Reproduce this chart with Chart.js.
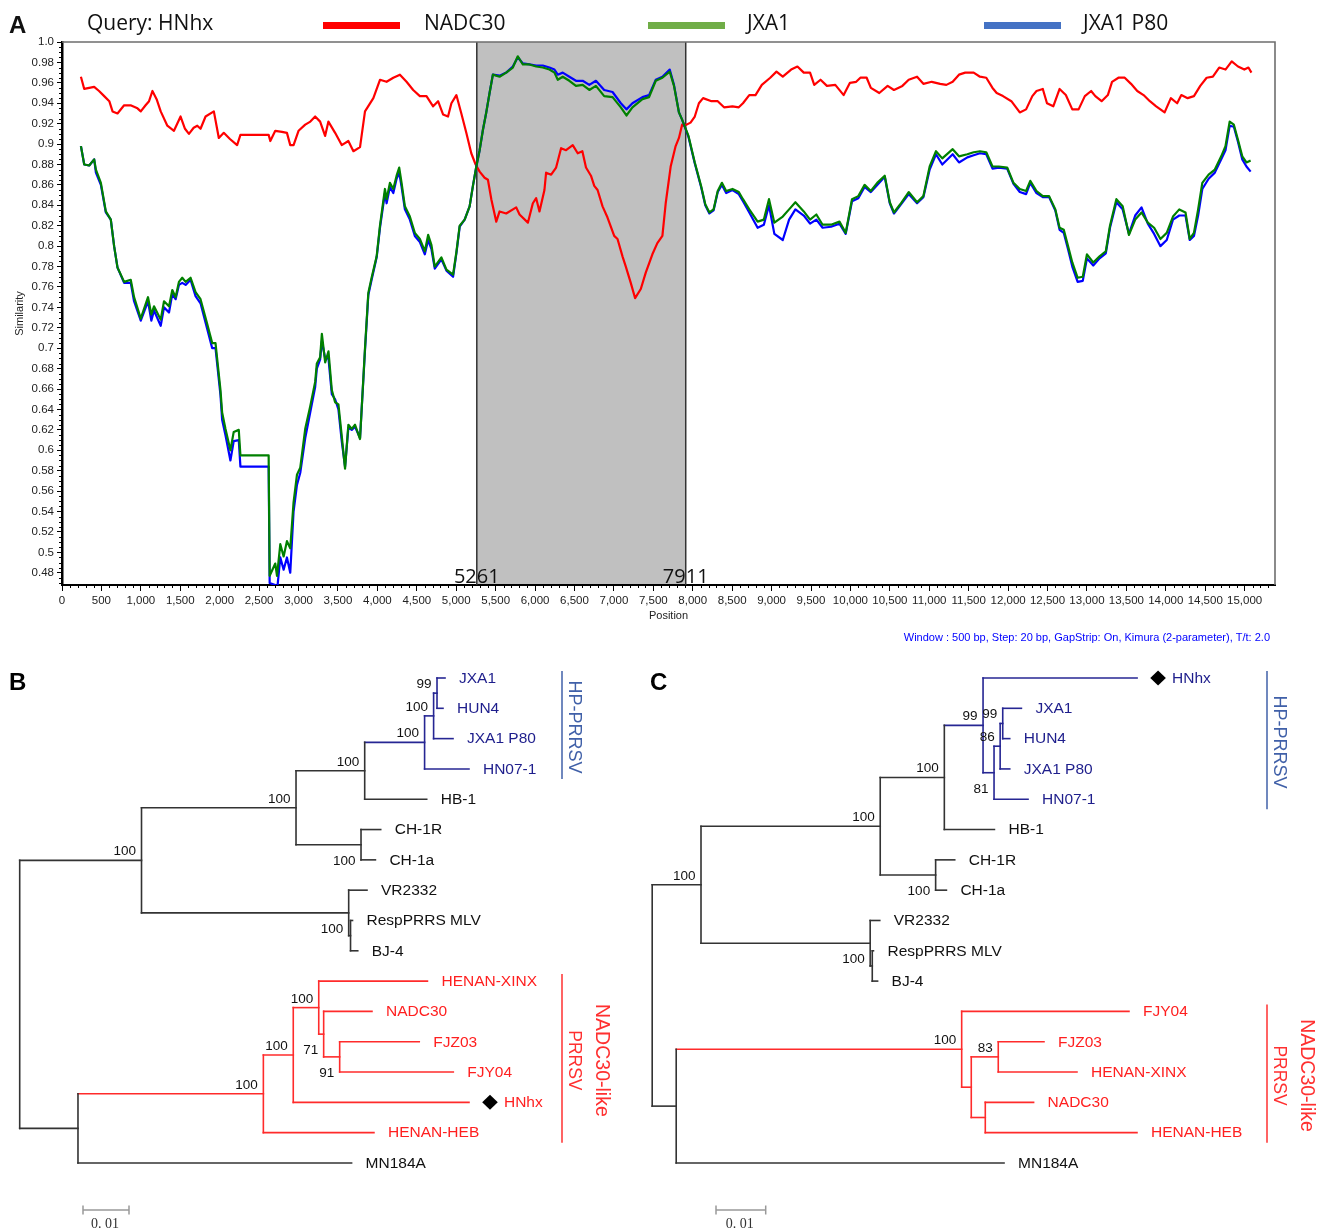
<!DOCTYPE html>
<html>
<head>
<meta charset="utf-8">
<title>HNhx similarity plot and trees</title>
<script src="https://cdn.jsdelivr.net/npm/chart.js@4.4.1/dist/chart.umd.min.js"></script>
<style>
  html, body { margin: 0; padding: 0; background: #fff; }
  #wrap { position: relative; width: 1320px; height: 1229px; overflow: hidden; }
  canvas { position: absolute; }
</style>
</head>
<body>
<div id="wrap">
  <canvas id="chartA" width="1320" height="645" style="left:0;top:0"></canvas>
  <canvas id="chartB" width="640" height="579" style="left:0;top:650px"></canvas>
  <canvas id="chartC" width="680" height="579" style="left:640px;top:650px"></canvas>
</div>
<script>
// ---- panel A : similarity plot, query HNhx ----
var queryName = 'HNhx';
var seriesNames = ['NADC30', 'JXA1', 'JXA1 P80'];
var breakpoints = [5261, 7911];
var positionTicks = [0,500,1000,1500,2000,2500,3000,3500,4000,4500,5000,5500,6000,6500,7000,7500,
  8000,8500,9000,9500,10000,10500,11000,11500,12000,12500,13000,13500,14000,14500,15000];

var nadcPos = [
  240,282,345,408,470,535,600,641,704,788,
  870,957,999,1060,1104,1147,1200,1252,1336,1420,
  1504,1560,1610,1670,1716,1757,1821,1926,1989,2052,
  2130,2221,2263,2621,2642,2705,2790,2853,2895,2937,
  3000,3085,3150,3211,3274,3337,3379,3464,3548,3632,
  3696,3780,3843,3949,4033,4117,4202,4286,4370,4454,
  4539,4623,4707,4770,4833,4896,4939,5002,5065,5128,
  5191,5246,5297,5360,5402,5445,5508,5550,5634,5761,
  5803,5909,5972,6014,6056,6119,6140,6204,6267,6330,
  6393,6478,6541,6600,6646,6709,6751,6793,6856,6919,
  7004,7046,7109,7151,7214,7269,7341,7404,7488,7551,
  7615,7657,7720,7783,7825,7865,7893,7972,8026,8078,
  8131,8238,8317,8397,8504,8584,8637,8717,8796,8876,
  8983,9062,9142,9248,9328,9408,9488,9541,9621,9702,
  9808,9914,9994,10073,10126,10206,10259,10366,10472,10552,
  10659,10739,10845,10925,11031,11138,11217,11297,11377,11456,
  11563,11643,11723,11802,11855,11935,12041,12148,12228,12307,
  12360,12440,12493,12573,12653,12732,12814,12894,12973,13053,
  13106,13186,13265,13318,13399,13479,13559,13638,13718,13798,
  13878,13985,14064,14144,14197,14277,14357,14437,14518,14597,
  14677,14757,14836,14916,14996,15048,15086
];
var nadcSim = [
  .966,.954,.955,.956,.952,.947,.942,.932,.930,.938,
  .938,.935,.932,.938,.942,.952,.944,.932,.918,.913,
  .927,.915,.910,.916,.918,.915,.927,.932,.906,.911,
  .905,.899,.909,.909,.903,.913,.912,.911,.899,.899,
  .913,.919,.922,.927,.922,.908,.922,.911,.899,.903,
  .893,.897,.932,.945,.963,.961,.965,.968,.961,.953,
  .947,.947,.937,.942,.929,.927,.940,.948,.930,.911,
  .891,.880,.873,.867,.865,.846,.824,.834,.832,.838,
  .831,.823,.842,.847,.834,.855,.872,.870,.877,.896,
  .894,.899,.891,.893,.877,.869,.859,.855,.839,.828,
  .810,.807,.790,.780,.764,.749,.758,.774,.792,.803,
  .810,.842,.878,.898,.906,.919,.918,.921,.927,.940,
  .945,.942,.942,.936,.937,.936,.940,.948,.948,.958,
  .965,.971,.966,.973,.976,.970,.970,.958,.963,.957,
  .958,.948,.960,.961,.965,.965,.955,.950,.957,.953,
  .957,.963,.966,.959,.961,.959,.958,.961,.968,.970,
  .970,.966,.965,.955,.950,.947,.942,.931,.934,.947,
  .952,.954,.940,.937,.954,.948,.934,.934,.947,.952,
  .947,.942,.948,.961,.965,.965,.959,.952,.948,.942,
  .937,.931,.945,.940,.948,.945,.947,.957,.965,.966,
  .975,.973,.981,.976,.973,.975,.970
];

// JXA1 and JXA1 P80 share the same window positions
var jxaPos = [
  240,282,345,408,430,493,556,619,661,704,
  788,872,914,999,1091,1133,1167,1252,1294,1357,
  1399,1441,1483,1525,1568,1631,1694,1757,1841,1905,
  1947,2010,2031,2073,2136,2178,2242,2263,2621,2634,
  2705,2727,2769,2811,2853,2895,2937,2980,3022,3085,
  3148,3211,3232,3274,3296,3338,3380,3422,3464,3506,
  3548,3590,3632,3675,3717,3780,3843,3885,3927,3991,
  4033,4096,4117,4159,4202,4244,4277,4307,4349,4412,
  4475,4539,4602,4644,4686,4728,4812,4876,4960,5002,
  5044,5107,5170,5212,5255,5297,5339,5381,5423,5465,
  5550,5634,5718,5781,5845,5929,6014,6098,6182,6246,
  6288,6351,6435,6519,6604,6688,6772,6877,6983,7088,
  7159,7235,7362,7446,7531,7615,7708,7762,7825,7865,
  7946,8026,8106,8159,8211,8264,8317,8370,8424,8504,
  8584,8637,8717,8823,8902,8967,9035,9142,9222,9302,
  9408,9488,9568,9647,9754,9861,9940,10020,10100,10180,
  10259,10340,10435,10499,10552,10632,10739,10845,10925,11005,
  11085,11165,11297,11377,11483,11563,11643,11723,11802,11882,
  11988,12068,12148,12228,12281,12360,12440,12520,12599,12653,
  12706,12760,12814,12882,12947,13000,13080,13160,13239,13292,
  13373,13453,13533,13612,13692,13772,13852,13932,14012,14091,
  14171,14250,14304,14357,14410,14463,14543,14622,14703,14757,
  14810,14863,14916,14970,15023,15076
];
var jxaSim = [
  .898,.880,.879,.885,.875,.862,.834,.826,.800,.779,
  .765,.767,.750,.729,.750,.733,.741,.728,.746,.741,
  .757,.750,.765,.769,.765,.769,.755,.748,.724,.705,
  .705,.659,.637,.621,.600,.618,.620,.595,.595,.477,
  .489,.477,.508,.496,.511,.504,.549,.576,.583,.621,
  .643,.667,.685,.691,.714,.686,.697,.659,.647,.645,
  .614,.582,.625,.621,.625,.611,.700,.754,.769,.790,
  .820,.856,.846,.862,.856,.869,.877,.862,.839,.829,
  .813,.807,.795,.811,.801,.780,.789,.777,.772,.794,
  .820,.826,.839,.859,.878,.894,.914,.931,.950,.968,
  .966,.970,.975,.986,.978,.978,.976,.975,.973,.970,
  .963,.966,.962,.957,.958,.953,.957,.947,.946,.936,
  .928,.936,.944,.946,.962,.965,.971,.957,.931,.924,
  .908,.882,.859,.841,.833,.836,.854,.862,.854,.856,
  .853,.846,.836,.824,.826,.846,.823,.829,.836,.843,
  .834,.826,.831,.821,.821,.824,.813,.846,.849,.860,
  .854,.862,.869,.843,.833,.841,.853,.843,.849,.878,
  .893,.886,.895,.888,.890,.892,.893,.892,.878,.878,
  .877,.862,.856,.854,.864,.854,.849,.849,.836,.818,
  .816,.800,.784,.769,.770,.792,.784,.790,.795,.820,
  .846,.839,.811,.826,.833,.823,.818,.807,.813,.829,
  .836,.833,.807,.813,.836,.862,.870,.875,.888,.898,
  .922,.919,.904,.888,.882,.884
];
var p80Sim = [
  .898,.880,.879,.885,.872,.860,.833,.826,.800,.779,
  .764,.764,.746,.727,.746,.727,.737,.722,.740,.735,
  .753,.748,.762,.764,.762,.767,.751,.744,.719,.700,
  .700,.654,.630,.615,.590,.609,.610,.584,.584,.470,
  .468,.462,.495,.483,.495,.480,.540,.566,.578,.612,
  .637,.662,.680,.689,.707,.690,.690,.655,.650,.640,
  .609,.584,.622,.620,.623,.612,.698,.752,.767,.789,
  .818,.852,.842,.858,.852,.866,.872,.858,.836,.826,
  .810,.804,.792,.806,.797,.778,.787,.776,.770,.793,
  .819,.826,.839,.859,.878,.894,.914,.931,.950,.968,
  .967,.970,.976,.985,.979,.978,.977,.977,.975,.973,
  .968,.970,.966,.962,.962,.958,.962,.953,.951,.940,
  .934,.940,.946,.948,.963,.966,.973,.958,.931,.924,
  .907,.881,.858,.840,.832,.835,.853,.860,.852,.855,
  .851,.844,.833,.818,.821,.840,.812,.806,.826,.836,
  .830,.822,.826,.818,.819,.822,.812,.844,.847,.858,
  .853,.860,.868,.842,.832,.840,.851,.842,.848,.875,
  .890,.880,.890,.882,.887,.889,.891,.890,.876,.877,
  .876,.861,.853,.851,.862,.852,.848,.848,.835,.816,
  .813,.797,.780,.765,.766,.788,.781,.788,.793,.818,
  .843,.836,.812,.830,.838,.822,.812,.800,.806,.826,
  .830,.830,.806,.810,.830,.856,.866,.872,.885,.894,
  .918,.917,.902,.885,.878,.873
];

// ---- panels B and C : trees (parent, branch length, bootstrap) ----
var bNode   = ['root','big','hpch','hphb','hp','j3','jh','JXA1','HUN4','JXA1 P80','HN07-1','HB-1','ch1','CH-1R','CH-1a','vr','VR2332','rb','RespPRRS MLV','BJ-4','outer','n30','n5','n4','HENAN-XINX','n3','NADC30','fj','FJZ03','FJY04','HNhx','HENAN-HEB','MN184A'];
var bParent = [null,'root','big','hpch','hphb','hp','j3','jh','jh','j3','hp','hphb','hpch','ch1','ch1','big','vr','vr','rb','rb','root','outer','n30','n5','n4','n4','n3','n3','fj','fj','n5','n30','outer'];
var bLength = [0,0.02648,0.03359,0.01493,0.01302,0.00196,0.00074,0.00174,0.0013,0.00422,0.00965,0.01348,0.01413,0.00428,0.00313,0.04504,0.00398,0.0004,0.00043,0.00157,0.01267,0.0403,0.0065,0.00554,0.02363,0.00107,0.0105,0.00348,0.0173,0.0247,0.0382,0.02404,0.05948];
var bBoot   = [null,100,100,100,100,100,99,null,null,null,null,null,100,null,null,100,null,null,null,null,null,100,100,100,null,71,null,91,null,null,null,null,null];
var bBootBelow = ['ch1','vr','n3','fj'];

var cNode   = ['root','big','hhc','hphb','hp','HNhx','n4','n3','jh','JXA1','HUN4','JXA1 P80','HN07-1','HB-1','ch1','CH-1R','CH-1a','vr','VR2332','rb','RespPRRS MLV','BJ-4','outer','n30','FJY04','rest','fx','FJZ03','HENAN-XINX','nh','NADC30','HENAN-HEB','MN184A'];
var cParent = [null,'root','big','hhc','hphb','hp','hp','n4','n3','jh','jh','n3','n4','hphb','hhc','ch1','ch1','big','vr','vr','rb','rb','root','outer','n30','n30','rest','fx','fx','rest','nh','nh','outer'];
var cLength = [0,0.00982,0.03606,0.0129,0.00779,0.03099,0.00221,0.00123,0.00052,0.00376,0.00141,0.00193,0.00684,0.01008,0.01115,0.00384,0.00217,0.03404,0.00193,0.00042,0.00024,0.00107,0.00483,0.05744,0.03366,0.00193,0.00543,0.0092,0.01584,0.00282,0.00972,0.03052,0.06596];
var cBoot   = [null,100,100,100,99,null,81,86,99,null,null,null,null,null,100,null,null,100,null,null,null,null,null,100,null,null,83,null,null,null,null,null,null];
var cBootBelow = ['n4','ch1','vr'];

var hpGroup = 'HP-PRRSV';
var nadcGroup = ['NADC30-like', 'PRRSV'];
var scaleBarLength = 0.01;

// ---------------------------------------------------------------
var SANS = "'Liberation Sans', Arial, sans-serif";
Chart.defaults.font.family = SANS;

function toPoints(xs, ys) {
  return xs.map(function (x, i) { return { x: x, y: ys[i] }; });
}

var chartAPlugin = {
  id: 'similarityDecor',
  beforeDatasetsDraw: function (chart) {
    var ctx = chart.ctx, a = chart.chartArea, sx = chart.scales.x;
    var x1 = sx.getPixelForValue(breakpoints[0]), x2 = sx.getPixelForValue(breakpoints[1]);
    ctx.save();
    ctx.fillStyle = '#c0c0c0';
    ctx.fillRect(x1, a.top, x2 - x1, a.bottom - a.top - 1);
    ctx.strokeStyle = '#333';
    ctx.lineWidth = 1.5;
    ctx.beginPath();
    ctx.moveTo(x1, a.top); ctx.lineTo(x1, a.bottom);
    ctx.moveTo(x2, a.top); ctx.lineTo(x2, a.bottom);
    ctx.stroke();
    // top and right frame
    ctx.strokeStyle = '#6e6e6e';
    ctx.lineWidth = 1.6;
    ctx.beginPath();
    ctx.moveTo(a.left, a.top); ctx.lineTo(a.right, a.top); ctx.lineTo(a.right, a.bottom);
    ctx.stroke();
    ctx.restore();
  },
  afterDraw: function (chart) {
    var ctx = chart.ctx, a = chart.chartArea, sx = chart.scales.x, sy = chart.scales.y;
    ctx.save();
    // minor ticks
    ctx.strokeStyle = '#000';
    ctx.lineWidth = 1;
    ctx.beginPath();
    for (var v = 100; v <= sx.max; v += 100) {
      if (v % 500 === 0) continue;
      var px = Math.round(sx.getPixelForValue(v)) + 0.5;
      ctx.moveTo(px, a.bottom); ctx.lineTo(px, a.bottom + 3);
    }
    for (var k = 94; k <= 200; k++) {
      if (k % 4 === 0) continue;
      var py = Math.round(sy.getPixelForValue(k * 0.005)) + 0.5;
      ctx.moveTo(a.left - 3, py); ctx.lineTo(a.left, py);
    }
    ctx.stroke();

    // breakpoint labels
    ctx.fillStyle = '#111';
    ctx.font = "20px 'Open Sans', sans-serif";
    ctx.textAlign = 'center';
    ctx.textBaseline = 'alphabetic';
    breakpoints.forEach(function (b) {
      ctx.fillText(String(b), sx.getPixelForValue(b), a.bottom - 2);
    });

    // header: query + legend
    ctx.textAlign = 'left';
    ctx.font = "21px 'Open Sans', sans-serif";
    ctx.fillText('Query: ' + queryName, 87, 30);
    var swatchX = [323, 648, 984];
    var swatchCol = ['#ff0000', '#70ad47', '#4472c4'];
    var textX = [424, 747, 1083];
    seriesNames.forEach(function (n, i) {
      ctx.fillStyle = swatchCol[i];
      ctx.fillRect(swatchX[i], 22, 77, 7);
      ctx.fillStyle = '#111';
      ctx.fillText(n, textX[i], 30);
    });

    // panel letter
    ctx.font = "bold 24px " + SANS;
    ctx.fillText('A', 9, 33);

    // footnote
    ctx.fillStyle = '#0000ff';
    ctx.font = "11px " + SANS;
    ctx.textAlign = 'right';
    ctx.fillText('Window : 500 bp, Step: 20 bp, GapStrip: On, Kimura (2-parameter), T/t: 2.0', 1270, 641);
    ctx.restore();
  }
};

new Chart(document.getElementById('chartA'), {
  type: 'scatter',
  data: {
    datasets: [
      { label: seriesNames[1], data: toPoints(jxaPos, jxaSim), borderColor: '#008000' },
      { label: seriesNames[2], data: toPoints(jxaPos, p80Sim), borderColor: '#0000ff' },
      { label: seriesNames[0], data: toPoints(nadcPos, nadcSim), borderColor: '#ff0000' }
    ].map(function (d) {
      d.showLine = true; d.pointRadius = 0; d.pointHoverRadius = 0;
      d.borderWidth = 2.2; d.borderJoinStyle = 'round';
      return d;
    })
  },
  options: {
    responsive: false,
    animation: false,
    events: [],
    layout: { padding: { top: 42, right: 45, left: 0, bottom: 0 } },
    plugins: { legend: { display: false }, tooltip: { enabled: false } },
    scales: {
      x: {
        type: 'linear', min: 0, max: 15385,
        border: { color: '#000', width: 2 },
        grid: { drawOnChartArea: false, tickLength: 6, color: '#000', tickColor: '#000' },
        afterBuildTicks: function (s) {
          s.ticks = positionTicks.map(function (v) { return { value: v }; });
        },
        ticks: {
          autoSkip: false, maxRotation: 0, minRotation: 0, padding: 3, color: '#222',
          font: { size: 11.5 },
          callback: function (v) { return v.toLocaleString('en-US'); }
        },
        title: { display: true, text: 'Position', color: '#222', font: { size: 11 }, padding: { top: 0, bottom: 22 } },
        afterFit: function (s) { s.height = 60; }
      },
      y: {
        type: 'linear', min: 0.468, max: 1.0,
        border: { color: '#000', width: 2.5 },
        grid: { drawOnChartArea: false, tickLength: 5, color: '#000', tickColor: '#000' },
        ticks: {
          stepSize: 0.02, includeBounds: false, autoSkip: false, maxTicksLimit: 100,
          padding: 3, color: '#222', font: { size: 11.5 },
          callback: function (v) { return v === 1 ? '1.0' : String(Math.round(v * 100) / 100); }
        },
        title: { display: true, text: 'Similarity', color: '#222', font: { size: 11 }, padding: { top: 13, bottom: 0 } },
        afterFit: function (s) { s.width = 62; }
      }
    }
  },
  plugins: [chartAPlugin]
});

// ---------------- trees ----------------
var BRANCH = { black: '#333333', blue: '#262693', red: '#ff2b2b' };
var LABEL = { black: '#111111', blue: '#1e1e8c', red: '#ff1f1f' };
var GROUP_BLUE = '#4060a8', GROUP_RED = '#ff3030';

function layoutTree(names, parents, lengths) {
  var idx = {};
  names.forEach(function (n, i) { idx[n] = i; });
  var kids = names.map(function () { return []; });
  var root = 0;
  parents.forEach(function (p, i) { if (p === null) root = i; else kids[idx[p]].push(i); });
  var xs = [], ys = [], leaf = 0;
  function walk(i, x) {
    xs[i] = x;
    if (!kids[i].length) { ys[i] = leaf++; return; }
    kids[i].forEach(function (k) { walk(k, x + lengths[k]); });
    ys[i] = (ys[kids[i][0]] + ys[kids[i][kids[i].length - 1]]) / 2;
  }
  walk(root, 0);
  return { idx: idx, kids: kids, x: xs, y: ys };
}

function cladeColours(names, parents, idx, blueRoot, redRoot) {
  return names.map(function (n, i) {
    var j = i;
    while (j !== null) {
      if (names[j] === blueRoot) return 'blue';
      if (names[j] === redRoot) return 'red';
      j = parents[j] === null ? null : idx[parents[j]];
    }
    return 'black';
  });
}

function segment(x1, y1, x2, y2, col) {
  return {
    data: [{ x: x1, y: y1 }, { x: x2, y: y2 }],
    showLine: true, borderColor: BRANCH[col], borderWidth: 1.6,
    pointRadius: 0, pointHoverRadius: 0, borderCapStyle: 'square', clip: false
  };
}

function drawTree(cfg) {
  var t = layoutTree(cfg.names, cfg.parents, cfg.lengths);
  var col = cladeColours(cfg.names, cfg.parents, t.idx, 'hp', 'n30');
  var sets = [];
  cfg.names.forEach(function (n, i) {
    if (cfg.parents[i] !== null) {
      sets.push(segment(t.x[t.idx[cfg.parents[i]]], t.y[i], t.x[i], t.y[i], col[i]));
    }
    var k = t.kids[i];
    if (k.length) sets.push(segment(t.x[i], t.y[k[0]], t.x[i], t.y[k[k.length - 1]], col[i]));
  });

  var plugin = {
    id: 'treeLabels' + cfg.letter,
    afterDatasetsDraw: function (chart) {
      var ctx = chart.ctx, sx = chart.scales.x, sy = chart.scales.y;
      ctx.save();
      // leaf names
      ctx.textAlign = 'left';
      ctx.textBaseline = 'middle';
      cfg.names.forEach(function (n, i) {
        if (t.kids[i].length) return;
        var px = sx.getPixelForValue(t.x[i]), py = sy.getPixelForValue(t.y[i]);
        var tx = px + 14;
        if (n === queryName) {
          var cx = px + 21;
          ctx.fillStyle = '#000';
          ctx.beginPath();
          ctx.moveTo(cx, py - 7.5); ctx.lineTo(cx + 7.8, py); ctx.lineTo(cx, py + 7.5); ctx.lineTo(cx - 7.8, py);
          ctx.closePath(); ctx.fill();
          tx = px + 35;
        }
        ctx.fillStyle = LABEL[col[i]];
        ctx.font = '15.5px ' + SANS;
        ctx.fillText(n, tx, py + 0.5);
      });
      // bootstrap values
      ctx.fillStyle = '#111';
      ctx.font = '13.5px ' + SANS;
      ctx.textAlign = 'right';
      ctx.textBaseline = 'alphabetic';
      cfg.boot.forEach(function (b, i) {
        if (b === null) return;
        var px = sx.getPixelForValue(t.x[i]) - 5.5, py = sy.getPixelForValue(t.y[i]);
        var below = cfg.below.indexOf(cfg.names[i]) >= 0;
        ctx.fillText(String(b), px, below ? py + 20 : py - 5);
      });
      // clade brackets
      cfg.groups.forEach(function (g) {
        var y1 = sy.getPixelForValue(t.y[t.idx[g.first]]) - 7;
        var y2 = sy.getPixelForValue(t.y[t.idx[g.last]]) + 10;
        ctx.strokeStyle = g.colour; ctx.lineWidth = 1.5;
        ctx.beginPath(); ctx.moveTo(cfg.bracketX, y1); ctx.lineTo(cfg.bracketX, y2); ctx.stroke();
        ctx.fillStyle = g.colour;
        ctx.textAlign = 'center'; ctx.textBaseline = 'middle';
        g.text.forEach(function (line, j) {
          ctx.save();
          ctx.translate(cfg.bracketX + (g.text.length - j === 2 ? 39 : 12), (y1 + y2) / 2 + 2);
          ctx.rotate(Math.PI / 2);
          ctx.font = g.sizes[j] + 'px ' + SANS;
          ctx.fillText(line, 0, 0);
          ctx.restore();
        });
      });
      // scale bar
      var x0 = cfg.scaleBarX, len = sx.getPixelForValue(scaleBarLength) - sx.getPixelForValue(0), yb = 560;
      ctx.strokeStyle = '#999'; ctx.lineWidth = 1.5;
      ctx.beginPath();
      ctx.moveTo(x0, yb); ctx.lineTo(x0 + len, yb);
      ctx.moveTo(x0, yb - 4.5); ctx.lineTo(x0, yb + 4.5);
      ctx.moveTo(x0 + len, yb - 4.5); ctx.lineTo(x0 + len, yb + 4.5);
      ctx.stroke();
      ctx.fillStyle = '#333';
      ctx.font = "14px 'Liberation Serif', serif";
      ctx.textAlign = 'center'; ctx.textBaseline = 'alphabetic';
      ctx.fillText('0. 01', x0 + len / 2 - 1, 578);
      // panel letter
      ctx.fillStyle = '#000';
      ctx.font = 'bold 24px ' + SANS;
      ctx.textAlign = 'left';
      ctx.fillText(cfg.letter, cfg.letterX, 40);
      ctx.restore();
    }
  };

  var w = cfg.width, h = 579;
  new Chart(document.getElementById(cfg.canvas), {
    type: 'scatter',
    data: { datasets: sets },
    options: {
      responsive: false,
      animation: false,
      events: [],
      layout: { padding: 0 },
      plugins: { legend: { display: false }, tooltip: { enabled: false } },
      scales: {
        x: { display: false, min: -cfg.rootPx / cfg.unitPx, max: (w - cfg.rootPx) / cfg.unitPx },
        y: { display: false, reverse: true, min: -28 / 30.31, max: (h - 28) / 30.31 }
      }
    },
    plugins: [plugin]
  });
}

drawTree({
  canvas: 'chartB', letter: 'B', letterX: 9, width: 640, rootPx: 19.7, unitPx: 4600,
  names: bNode, parents: bParent, lengths: bLength, boot: bBoot, below: bBootBelow,
  bracketX: 562, scaleBarX: 83,
  groups: [
    { first: 'JXA1', last: 'HN07-1', text: [hpGroup], sizes: [18], colour: GROUP_BLUE },
    { first: 'HENAN-XINX', last: 'HENAN-HEB', text: nadcGroup, sizes: [19.5, 17.5], colour: GROUP_RED }
  ]
});

drawTree({
  canvas: 'chartC', letter: 'C', letterX: 10, width: 680, rootPx: 12.2, unitPx: 4970,
  names: cNode, parents: cParent, lengths: cLength, boot: cBoot, below: cBootBelow,
  bracketX: 627, scaleBarX: 76,
  groups: [
    { first: 'HNhx', last: 'HN07-1', text: [hpGroup], sizes: [18], colour: GROUP_BLUE },
    { first: 'FJY04', last: 'HENAN-HEB', text: nadcGroup, sizes: [19.5, 17.5], colour: GROUP_RED }
  ]
});
</script>
</body>
</html>
